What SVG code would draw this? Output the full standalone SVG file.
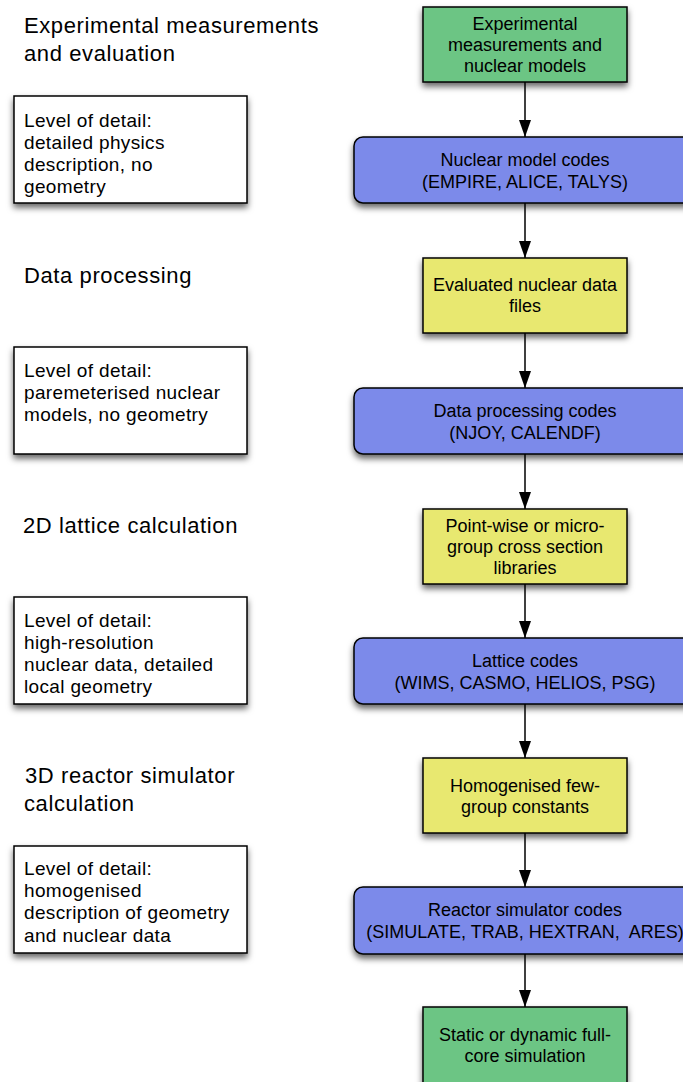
<svg xmlns="http://www.w3.org/2000/svg" width="683" height="1082" viewBox="0 0 683 1082">
<style>
text{font-family:"Liberation Sans",Arial,Helvetica,sans-serif;fill:#000}
.title{font-size:22px;letter-spacing:0.6px}
.lod{font-size:19px;letter-spacing:0.35px}
.nt{font-size:18px;text-anchor:middle}
.box{stroke:#000;stroke-width:1.5}
.green{fill:#6cc584}
.blue{fill:#7b8aea}
.yellow{fill:#e8e870}
.white{fill:#fff}
.conn line{stroke:#000;stroke-width:1.5}
</style>
<defs>
<filter id="sh" x="-10%" y="-20%" width="120%" height="150%">
<feDropShadow dx="0" dy="4" stdDeviation="3" flood-color="#000" flood-opacity="0.6"/>
</filter>
<marker id="ah" viewBox="0 0 17 12" refX="17" refY="6" markerWidth="17" markerHeight="12" markerUnits="userSpaceOnUse" orient="auto">
<path d="M0,0 L17,6 L0,12 z" fill="#000"/>
</marker>
</defs>

<g id="titles">
<text class="title" x="24" y="33">Experimental measurements</text>
<text class="title" x="24" y="61">and evaluation</text>
<text class="title" x="24" y="283">Data processing</text>
<text class="title" x="23" y="533">2D lattice calculation</text>
<text class="title" x="25" y="783">3D reactor simulator</text>
<text class="title" x="24" y="811">calculation</text>
</g>

<g id="lod1">
<rect class="box white" x="14" y="96" width="233" height="107" filter="url(#sh)"/>
<text class="lod" x="24" y="127">Level of detail:</text>
<text class="lod" x="24" y="149">detailed physics</text>
<text class="lod" x="24" y="171">description, no</text>
<text class="lod" x="24" y="193">geometry</text>
</g>
<g id="lod2">
<rect class="box white" x="14" y="347" width="233" height="107" filter="url(#sh)"/>
<text class="lod" x="24" y="377">Level of detail:</text>
<text class="lod" x="24" y="399">paremeterised nuclear</text>
<text class="lod" x="24" y="421">models, no geometry</text>
</g>
<g id="lod3">
<rect class="box white" x="14" y="597" width="233" height="107" filter="url(#sh)"/>
<text class="lod" x="24" y="627">Level of detail:</text>
<text class="lod" x="24" y="649">high-resolution</text>
<text class="lod" x="24" y="671">nuclear data, detailed</text>
<text class="lod" x="24" y="693">local geometry</text>
</g>
<g id="lod4">
<rect class="box white" x="14" y="846" width="233" height="107" filter="url(#sh)"/>
<text class="lod" x="24" y="875">Level of detail:</text>
<text class="lod" x="24" y="897">homogenised</text>
<text class="lod" x="24" y="919">description of geometry</text>
<text class="lod" x="24" y="942">and nuclear data</text>
</g>

<g id="connectors" class="conn">
<line x1="525" y1="82" x2="525" y2="137" marker-end="url(#ah)"/>
<line x1="525" y1="203" x2="525" y2="258" marker-end="url(#ah)"/>
<line x1="525" y1="333" x2="525" y2="388" marker-end="url(#ah)"/>
<line x1="525" y1="454" x2="525" y2="509" marker-end="url(#ah)"/>
<line x1="525" y1="584" x2="525" y2="638" marker-end="url(#ah)"/>
<line x1="525" y1="703" x2="525" y2="758" marker-end="url(#ah)"/>
<line x1="525" y1="833" x2="525" y2="887" marker-end="url(#ah)"/>
<line x1="525" y1="954" x2="525" y2="1007" marker-end="url(#ah)"/>
</g>

<g id="n1">
<rect class="box green" x="423" y="7" width="204" height="75" filter="url(#sh)"/>
<text class="nt" x="525" y="30">Experimental</text>
<text class="nt" x="525" y="51">measurements and</text>
<text class="nt" x="525" y="72">nuclear models</text>
</g>
<g id="n2">
<rect class="box blue" x="354" y="137" width="342" height="66" rx="9" filter="url(#sh)"/>
<text class="nt" x="525" y="166">Nuclear model codes</text>
<text class="nt" x="525" y="188">(EMPIRE, ALICE, TALYS)</text>
</g>
<g id="n3">
<rect class="box yellow" x="423" y="258" width="204" height="75" filter="url(#sh)"/>
<text class="nt" x="525" y="291">Evaluated nuclear data</text>
<text class="nt" x="525" y="312">files</text>
</g>
<g id="n4">
<rect class="box blue" x="354" y="388" width="342" height="66" rx="9" filter="url(#sh)"/>
<text class="nt" x="525" y="417">Data processing codes</text>
<text class="nt" x="525" y="439">(NJOY, CALENDF)</text>
</g>
<g id="n5">
<rect class="box yellow" x="423" y="509" width="204" height="75" filter="url(#sh)"/>
<text class="nt" x="525" y="532">Point-wise or micro-</text>
<text class="nt" x="525" y="553">group cross section</text>
<text class="nt" x="525" y="574">libraries</text>
</g>
<g id="n6">
<rect class="box blue" x="354" y="638" width="342" height="66" rx="9" filter="url(#sh)"/>
<text class="nt" x="525" y="667">Lattice codes</text>
<text class="nt" x="525" y="689">(WIMS, CASMO, HELIOS, PSG)</text>
</g>
<g id="n7">
<rect class="box yellow" x="423" y="758" width="204" height="75" filter="url(#sh)"/>
<text class="nt" x="525" y="792">Homogenised few-</text>
<text class="nt" x="525" y="813">group constants</text>
</g>
<g id="n8">
<rect class="box blue" x="354" y="887" width="342" height="67" rx="9" filter="url(#sh)"/>
<text class="nt" x="525" y="916">Reactor simulator codes</text>
<text class="nt" x="525" y="938" style="white-space:pre">(SIMULATE, TRAB, HEXTRAN,  ARES)</text>
</g>
<g id="n9">
<rect class="box green" x="423" y="1007" width="204" height="80" filter="url(#sh)"/>
<text class="nt" x="525" y="1041">Static or dynamic full-</text>
<text class="nt" x="525" y="1062">core simulation</text>
</g>
</svg>
